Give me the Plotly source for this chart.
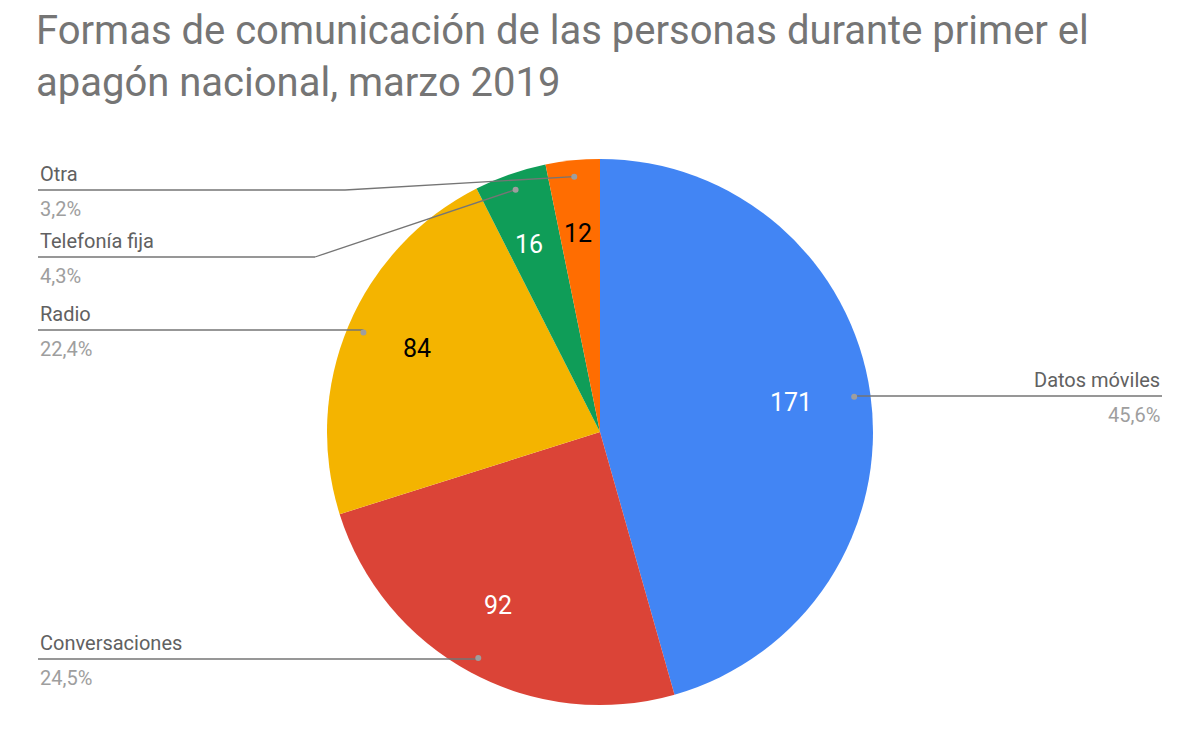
import math
import plotly.graph_objects as go

labels = ["Datos móviles", "Conversaciones", "Radio", "Telefonía fija", "Otra"]
values = [171, 92, 84, 16, 12]
pct_text = ["45,6%", "24,5%", "22,4%", "4,3%", "3,2%"]
colors = ["#4285F4", "#DB4437", "#F4B400", "#0F9D58", "#FF6D01"]
text_colors = ["white", "white", "black", "white", "black"]

W, H = 1200, 742
OFF = 8  # page margin compensation
cx, cy, r = 600, 432, 273
# label line placement (pixel): y of horizontal line, side, elbow x (None = at dot)
line_y = [396, 659, 330, 257, 190]
side = ["right", "left", "left", "left", "left"]
elbow_x = [None, None, None, 315, 345]


def px(x):
    return (x - OFF) / W


def py(y):
    return 1 - (y - OFF) / H


fig = go.Figure(go.Pie(
    labels=labels, values=values, sort=False, direction="clockwise", rotation=0,
    marker=dict(colors=colors, line=dict(color="white", width=0)),
    textinfo="none",
    domain=dict(x=[px(cx - r), px(cx + r)], y=[py(cy + r), py(cy - r)]),
    showlegend=False, hoverinfo="label+value+percent",
))

shapes, annotations = [], []
total = sum(values)
cum = 0
for i, v in enumerate(values):
    mid = (cum + v / 2) / total * 2 * math.pi
    cum += v
    # value inside slice
    tx = cx + 0.79 * r * math.sin(mid)
    ty = cy - 0.79 * r * math.cos(mid)
    annotations.append(dict(x=px(tx), y=py(ty), xref="paper", yref="paper", text=str(v),
                            showarrow=False, font=dict(size=25, color=text_colors[i], family="Roboto")))
    dx = cx + 0.94 * r * math.sin(mid)
    dy = cy - 0.94 * r * math.cos(mid)
    ly = line_y[i]
    ex = dx if elbow_x[i] is None else elbow_x[i]
    end = 1162 if side[i] == "right" else 38
    lc = "#757575"
    shapes.append(dict(type="line", xref="paper", yref="paper", x0=px(dx), y0=py(dy),
                       x1=px(ex), y1=py(ly), line=dict(color=lc, width=1.3)))
    shapes.append(dict(type="line", xref="paper", yref="paper", x0=px(ex), y0=py(ly),
                       x1=px(end), y1=py(ly), line=dict(color=lc, width=1.3)))
    shapes.append(dict(type="circle", xref="paper", yref="paper", x0=px(dx - 3), y0=py(dy - 3),
                       x1=px(dx + 3), y1=py(dy + 3), fillcolor="#9e9e9e", line=dict(width=0)))
    anchor = "right" if side[i] == "right" else "left"
    annotations.append(dict(x=px(end), y=py(ly - 2), xref="paper", yref="paper", text=labels[i],
                            showarrow=False, xanchor=anchor, yanchor="bottom",
                            font=dict(size=20, color="#616161", family="Roboto")))
    annotations.append(dict(x=px(end), y=py(ly + 5), xref="paper", yref="paper", text=pct_text[i],
                            showarrow=False, xanchor=anchor, yanchor="top",
                            font=dict(size=20, color="#9e9e9e", family="Roboto")))

fig.update_layout(
    width=W, height=H, margin=dict(l=0, r=0, t=0, b=0),
    paper_bgcolor="white", plot_bgcolor="white",
    title=dict(text="Formas de comunicación de las personas durante primer el<br>apagón nacional, marzo 2019",
               x=px(36), xanchor="left", y=py(44), yanchor="top", xref="paper", yref="paper",
               font=dict(size=40, color="#757575", family="Roboto")),
    shapes=shapes, annotations=annotations,
)

fig.write_html("out.html")
